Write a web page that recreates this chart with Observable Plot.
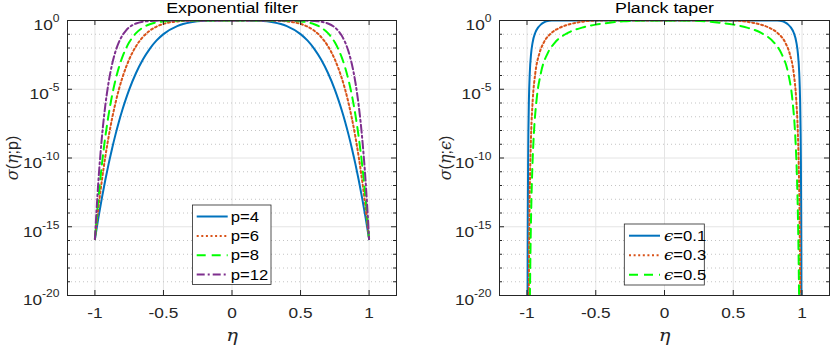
<!DOCTYPE html>
<html><head><meta charset="utf-8">
<script src="https://cdn.jsdelivr.net/npm/d3@7"></script>
<script src="https://cdn.jsdelivr.net/npm/@observablehq/plot@0.6"></script>
<style>
body{margin:0;background:#fff;}
#fig{position:relative;width:830px;height:345px;display:flex;}
#fig svg{display:block;}
#legend{position:absolute;left:0;top:0;}
</style></head><body><div id="fig"></div>
<script>
// ---------- data ----------
const xTicks = [-1, -0.5, 0, 0.5, 1];
const yMajorExp = [0, -5, -10, -15, -20];
const yMinorExp = [-1,-2,-3,-4,-6,-7,-8,-9,-11,-12,-13,-14,-16,-17,-18,-19];

// Exponential filter: eta and log10(sigma)
const etaExp = [-1,-0.975,-0.95,-0.925,-0.9,-0.875,-0.85,-0.825,-0.8,-0.775,-0.75,-0.7,-0.65,-0.6,-0.55,-0.5,-0.4,-0.3,-0.2,-0.1,0,0.1,0.2,0.3,0.4,0.5,0.55,0.6,0.65,0.7,0.75,0.775,0.8,0.825,0.85,0.875,0.9,0.925,0.95,0.975,1];
const logP4 = [-15.9,-14.37,-12.95,-11.64,-10.43,-9.32,-8.30,-7.36,-6.51,-5.74,-5.03,-3.82,-2.84,-2.06,-1.45,-0.99,-0.41,-0.13,-0.025,-0.002,0,-0.002,-0.025,-0.13,-0.41,-0.99,-1.45,-2.06,-2.84,-3.82,-5.03,-5.74,-6.51,-7.36,-8.30,-9.32,-10.43,-11.64,-12.95,-14.37,-15.9];
const logP6 = [-15.9,-13.66,-11.69,-9.96,-8.45,-7.14,-6.00,-5.01,-4.17,-3.45,-2.83,-1.87,-1.20,-0.74,-0.44,-0.25,-0.065,-0.012,-0.001,0,0,0,-0.001,-0.012,-0.065,-0.25,-0.44,-0.74,-1.20,-1.87,-2.83,-3.45,-4.17,-5.01,-6.00,-7.14,-8.45,-9.96,-11.69,-13.66,-15.9];
const logP8 = [-15.9,-12.99,-10.55,-8.52,-6.85,-5.46,-4.33,-3.41,-2.67,-2.07,-1.59,-0.92,-0.51,-0.27,-0.13,-0.062,-0.010,-0.001,0,0,0,0,0,-0.001,-0.010,-0.062,-0.13,-0.27,-0.51,-0.92,-1.59,-2.07,-2.67,-3.41,-4.33,-5.46,-6.85,-8.52,-10.55,-12.99,-15.9];
const logP12 = [-15.9,-11.74,-8.59,-6.24,-4.49,-3.20,-2.26,-1.58,-1.09,-0.75,-0.50,-0.22,-0.09,-0.035,-0.012,-0.004,0,0,0,0,0,0,0,0,0,-0.004,-0.012,-0.035,-0.09,-0.22,-0.50,-0.75,-1.09,-1.58,-2.26,-3.20,-4.49,-6.24,-8.59,-11.74,-15.9];

// Planck taper: eta and log10(sigma)
const etaE01 = [-0.996,-0.995,-0.994,-0.992,-0.99,-0.986,-0.98,-0.97,-0.96,-0.94,-0.92,-0.9,-0.88,-0.86,-0.84,-0.82,-0.8,0,0.8,0.82,0.84,0.86,0.88,0.9,0.92,0.94,0.96,0.97,0.98,0.986,0.99,0.992,0.994,0.995,0.996];
const logE01 = [-21.27,-16.93,-14.03,-10.4,-8.23,-5.74,-3.86,-2.39,-1.64,-0.89,-0.52,-0.3,-0.16,-0.06,-0.01,0,0,0,0,0,-0.01,-0.06,-0.16,-0.3,-0.52,-0.89,-1.64,-2.39,-3.86,-5.74,-8.23,-10.4,-14.03,-16.93,-21.27];
const etaE03 = [-0.988,-0.985,-0.982,-0.976,-0.97,-0.958,-0.94,-0.91,-0.88,-0.82,-0.76,-0.7,-0.64,-0.58,-0.52,-0.46,-0.4,0,0.4,0.46,0.52,0.58,0.64,0.7,0.76,0.82,0.88,0.91,0.94,0.958,0.97,0.976,0.982,0.985,0.988];
const logE03 = [-21.27,-16.93,-14.03,-10.4,-8.23,-5.74,-3.86,-2.39,-1.64,-0.89,-0.52,-0.3,-0.16,-0.06,-0.01,0,0,0,0,0,-0.01,-0.06,-0.16,-0.3,-0.52,-0.89,-1.64,-2.39,-3.86,-5.74,-8.23,-10.4,-14.03,-16.93,-21.27];
const etaE05 = [-0.98,-0.975,-0.97,-0.96,-0.95,-0.93,-0.9,-0.85,-0.8,-0.7,-0.6,-0.5,-0.4,-0.3,-0.2,-0.1,0,0.1,0.2,0.3,0.4,0.5,0.6,0.7,0.8,0.85,0.9,0.93,0.95,0.96,0.97,0.975,0.98];
const logE05 = [-21.27,-16.93,-14.03,-10.4,-8.23,-5.74,-3.86,-2.39,-1.64,-0.89,-0.52,-0.3,-0.16,-0.06,-0.01,0,0,0,-0.01,-0.06,-0.16,-0.3,-0.52,-0.89,-1.64,-2.39,-3.86,-5.74,-8.23,-10.4,-14.03,-16.93,-21.27];

const expLabels = ["p=4", "p=6", "p=8", "p=12"];
const planckLabels = ["0.1", "0.3", "0.5"];

// ---------- styles ----------
const COLORS = ["#0072BD", "#D95319", "#00FF00", "#7E2F8E"];
const DASHES = [null, "2,2.6", "9,6", "8,3,2,3"];
const AX = "#262626";
const STRETCH = 1.15;
const SANS = "'Liberation Sans', Arial, sans-serif";
const SERIF = "'DejaVu Serif', 'Liberation Serif', serif";
const LW = 2;

const mk = (eta, logs) => eta.map((e, i) => ({eta: e, sigma: Math.pow(10, logs[i])}));
const expSeries = [
  {label: expLabels[0], data: mk(etaExp, logP4)},
  {label: expLabels[1], data: mk(etaExp, logP6)},
  {label: expLabels[2], data: mk(etaExp, logP8)},
  {label: expLabels[3], data: mk(etaExp, logP12)}
];
const planckSeries = [
  {label: planckLabels[0], data: mk(etaE01, logE01)},
  {label: planckLabels[1], data: mk(etaE03, logE03)},
  {label: planckLabels[2], data: mk(etaE05, logE05)}
];
const yMajor = yMajorExp.map(e => Math.pow(10, e));
const yMinor = yMinorExp.map(e => Math.pow(10, e));

function panel({title, series, marginLeft, marginRight, ylabDx}) {
  const W = 415, H = 345, mt = 20, mb = 50;
  const iw = W - marginLeft - marginRight, ih = H - mt - mb;
  const marks = [
    Plot.ruleX(xTicks, {x: d => d, stroke: "#e4e4e4", strokeWidth: 1}),
    Plot.ruleY(yMinor, {y: d => d, stroke: "#c4c4c4", strokeWidth: 1, strokeDasharray: "1,3"}),
    Plot.ruleY(yMajor, {y: d => d, stroke: "#e4e4e4", strokeWidth: 1}),
    ...series.map((s, i) => Plot.line(s.data, {
      x: "eta", y: "sigma", stroke: COLORS[i], strokeWidth: LW,
      strokeDasharray: DASHES[i], curve: "monotone-x", clip: true
    })),
    Plot.frame({stroke: AX, strokeWidth: 1}),
    Plot.tickX(xTicks, {x: d => d, stroke: AX, insetTop: ih - 5}),
    Plot.tickX(xTicks, {x: d => d, stroke: AX, insetBottom: ih - 5}),
    Plot.tickY(yMajor, {y: d => d, stroke: AX, insetRight: iw - 5}),
    Plot.tickY(yMajor, {y: d => d, stroke: AX, insetLeft: iw - 5}),
    Plot.tickY(yMinor, {y: d => d, stroke: AX, insetRight: iw - 3}),
    Plot.tickY(yMinor, {y: d => d, stroke: AX, insetLeft: iw - 3}),
    Plot.axisX(xTicks, {tickSize: 0, tickPadding: 12, tickFormat: d => String(d), label: null, fill: AX, fontSize: 15}),
    Plot.axisY(yMajor, {tickSize: 0, tickPadding: 8, tickFormat: d => "10^" + Math.round(Math.log10(d)), label: null, fill: AX, fontSize: 15}),
    Plot.text([title], {text: d => d, frameAnchor: "top", lineAnchor: "middle", textAnchor: "middle", dy: -12, fontSize: 15.5, fontWeight: "normal", fill: "#000"}),
    Plot.text(["ETA"], {text: d => d, frameAnchor: "bottom", lineAnchor: "middle", textAnchor: "middle", dy: 40, fontSize: 17, fill: AX}),
    Plot.text(["YLAB"], {text: d => d, frameAnchor: "left", lineAnchor: "middle", textAnchor: "middle", rotate: -90, dx: ylabDx, fontSize: 16, fill: AX})
  ];
  return Plot.plot({
    width: W, height: H, marginLeft, marginRight, marginTop: mt, marginBottom: mb,
    x: {domain: [-1.2, 1.2]},
    y: {type: "log", domain: [1e-20, 1]},
    style: {fontFamily: SANS, fontSize: "14px", background: "white", overflow: "visible"},
    marks
  });
}

function tsp(parent, txt, attrs) {
  const t = document.createElementNS("http://www.w3.org/2000/svg", "tspan");
  t.textContent = txt;
  for (const k in attrs) t.setAttribute(k, attrs[k]);
  parent.appendChild(t);
  return t;
}

function finish(svg, ylabParts) {
  svg.querySelectorAll("text").forEach(t => {
    const s = t.textContent;
    if (s.includes("^")) {
      const [b, e] = s.split("^");
      t.textContent = "";
      tsp(t, b, {dy: "5"});
      tsp(t, e, {dy: "-8", "font-size": "10.5"});
    } else if (s === "ETA") {
      t.textContent = "η";
      t.setAttribute("font-family", SERIF);
      t.setAttribute("font-style", "italic");
    } else if (s === "YLAB") {
      t.textContent = "";
      ylabParts.forEach(([txt, it]) => tsp(t, txt, it ? {"font-family": SERIF, "font-style": "italic"} : {}));
    }
  });
  svg.querySelectorAll("text").forEach(t => {
    const tr = t.getAttribute("transform") || "";
    if (tr.includes("rotate")) return;
    t.setAttribute("transform", tr + ` scale(${STRETCH},1)`);
  });
}

const fig = document.getElementById("fig");
const left = panel({title: "Exponential filter", series: expSeries, marginLeft: 67, marginRight: 19, ylabDx: -55});
finish(left, [["σ", true], ["(", false], ["η", true], [";p)", false]]);
const right = panel({title: "Planck taper", series: planckSeries, marginLeft: 84, marginRight: 1, ylabDx: -54});
finish(right, [["σ", true], ["(", false], ["η", true], [";", false], ["ϵ", true], [")", false]]);
fig.appendChild(left);
fig.appendChild(right);

// ---------- legends ----------
const lg = d3.select(fig).append("svg").attr("id", "legend").attr("width", 830).attr("height", 345);
function legend(box, rows, lineX, textX, items, textFn) {
  lg.append("rect").attr("x", box[0]).attr("y", box[1]).attr("width", box[2]).attr("height", box[3])
    .attr("fill", "white").attr("stroke", AX).attr("stroke-width", 0.8);
  items.forEach((lab, i) => {
    const y = rows[i];
    lg.append("line").attr("x1", lineX[0]).attr("x2", lineX[1]).attr("y1", y).attr("y2", y)
      .attr("stroke", COLORS[i]).attr("stroke-width", LW).attr("stroke-dasharray", DASHES[i]);
    const t = lg.append("text").attr("transform", `translate(${textX},${y}) scale(${STRETCH},1)`)
      .attr("dy", "0.35em").attr("font-family", SANS).attr("font-size", 14.5).attr("fill", "#000");
    textFn(t.node(), lab);
  });
}
legend([192.5, 205, 78.5, 79.5], [216.5, 236, 255.3, 274.5], [196.7, 227.7], 230.7, expLabels,
  (node, lab) => { node.textContent = lab; });
legend([624.3, 224, 80, 61], [235.7, 255.3, 274.7], [629, 660], 664, planckLabels,
  (node, lab) => { tsp(node, "ϵ", {"font-family": SERIF, "font-style": "italic"}); tsp(node, "=" + lab, {}); });
</script></body></html>
